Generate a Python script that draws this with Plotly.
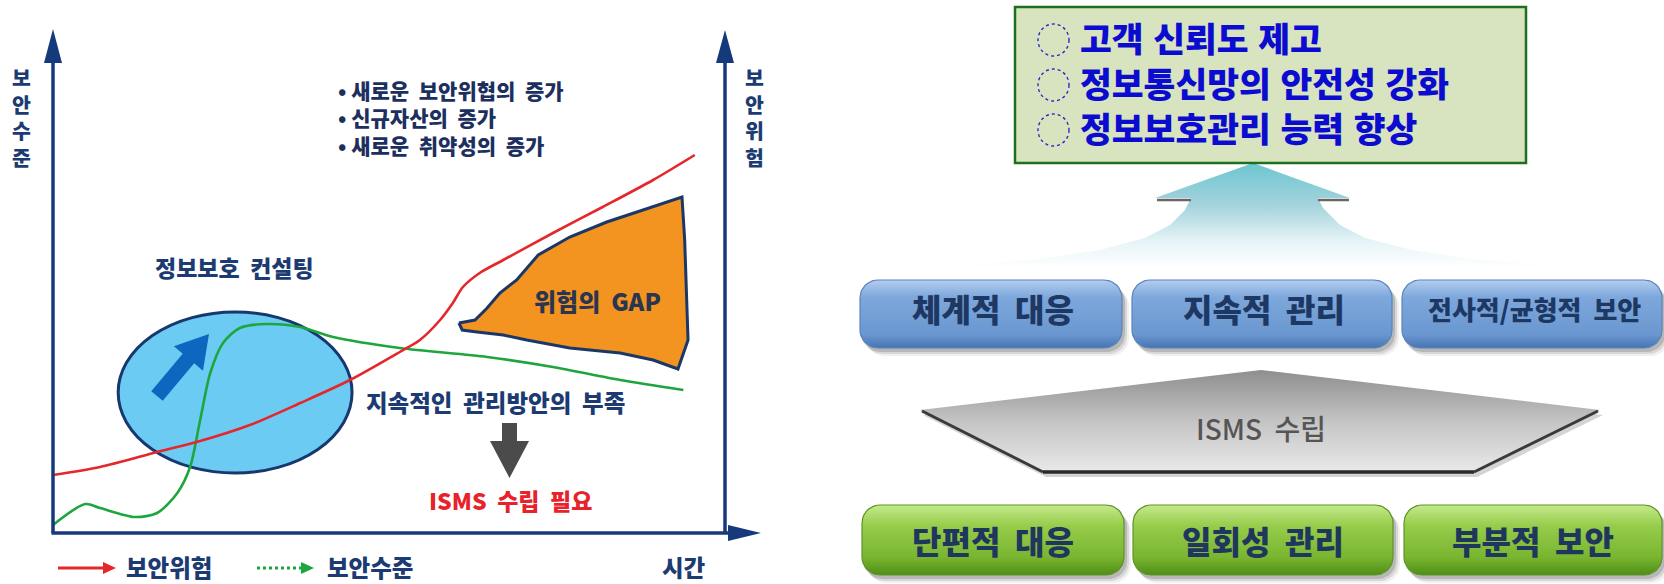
import math
import plotly.graph_objects as go

W, H = 1664, 584
KR = "Noto Sans CJK KR"
KR_TIGHT = "Liberation Sans, Noto Sans CJK KR"
NAVY = "#1c3b72"
NB = "\u00a0"

# ---------------- data : left chart (time 0-100, level 0-100) ----------------
risk_t = [0, 7.0, 15.5, 21.9, 29.3, 36.8, 44.2, 51.6, 54.6, 57.6, 59.5, 61.0, 63.5, 67.0, 74.4, 81.8, 89.3, 95.5]
risk_v = [11.6, 13.2, 16.2, 18.4, 21.6, 26.0, 30.6, 36.2, 38.6, 42.6, 46.0, 49.2, 52.0, 54.6, 60.0, 65.2, 70.6, 75.6]
level_t = [0, 4.8, 7.0, 12.2, 15.5, 18.5, 20.4, 21.9, 23.4, 25.3, 27.8, 31.8, 36.8, 41.7, 51.6, 64.6, 74.4, 84.4, 93.8]
level_v = [1.6, 5.8, 5.0, 3.2, 4.0, 8.0, 13.2, 22.6, 32.0, 38.0, 41.0, 41.8, 41.2, 39.2, 37.0, 35.2, 33.2, 30.6, 28.6]
gap_t = [60.4, 62.8, 64.6, 66.5, 69.0, 72.2, 76.9, 82.4, 86.9, 93.6, 94.0, 94.3, 94.5, 93.0, 89.3, 84.4, 76.9, 70.5, 67.0, 63.1, 60.9, 60.4]
gap_v = [42.0, 42.6, 45.0, 48.0, 50.6, 55.6, 59.2, 62.2, 64.2, 67.2, 58.6, 48.6, 38.6, 32.8, 34.6, 36.0, 37.0, 38.6, 39.6, 40.2, 40.6, 42.0]
consult_t = [9.7, 44.5]
consult_v = [12.0, 44.2]

legend_labels = ["보안위험", "보안수준"]
axis_left_label = "보안수준"
axis_right_label = "보안위험"
time_label = "시간"
bullet_lines = ["• 새로운  보안위협의  증가", "• 신규자산의  증가", "• 새로운  취약성의  증가"]
consult_label = "정보보호  컨설팅"
gap_label = "위험의  GAP"
lack_label = "지속적인  관리방안의  부족"
need_label = "ISMS  수립  필요"

# ---------------- data : right diagram ----------------
goal_lines = ["고객 신뢰도 제고", "정보통신망의 안전성 강화", "정보보호관리 능력 향상"]
top_boxes = ["체계적  대응", "지속적  관리", "전사적/균형적  보안"]
bottom_boxes = ["단편적  대응", "일회성  관리", "부분적  보안"]
middle_label = "ISMS  수립"

def nb(s):
    return s.replace("  ", NB + NB)

# pixel mapping of left chart
X0, X1 = 53, 725
YB, YT = 533, 33
def px2t(x): return (x - X0) * 100.0 / (X1 - X0)
def px2v(y): return (YB - y) * 100.0 / (YB - YT)

fig = go.Figure()

def poly_path(pts):
    return "M " + " L ".join(f"{x:.2f},{y:.2f}" for x, y in pts) + " Z"

shapes = []
annotations = []

def txt(x, y, s, size, color=NAVY, anchor="left", weight=800, family=KR, align="center"):
    annotations.append(dict(x=x, y=y, xref="x2", yref="y2", text=nb(s), showarrow=False,
                            xanchor=anchor, yanchor="middle", borderpad=0, align=align,
                            font=dict(family=family, size=size, color=color, weight=weight)))

# ---- ellipse (below curves) ----
shapes.append(dict(type="circle", xref="x", yref="y", layer="below",
                   x0=consult_t[0], x1=consult_t[1], y0=consult_v[0], y1=consult_v[1],
                   fillcolor="#6ccbf2", line=dict(color="#17386e", width=3)))

# blue arrow inside ellipse
T = (157, 396); P = (209, 334)
L = math.hypot(P[0] - T[0], P[1] - T[1])
u = ((P[0] - T[0]) / L, (P[1] - T[1]) / L)
n = (-u[1], u[0])
hw, HW, hl = 7.5, 19, 32
B = (P[0] - u[0] * hl, P[1] - u[1] * hl)
arr = [(T[0] + n[0] * hw, T[1] + n[1] * hw), (B[0] + n[0] * hw, B[1] + n[1] * hw),
       (B[0] + n[0] * HW, B[1] + n[1] * HW), P,
       (B[0] - n[0] * HW, B[1] - n[1] * HW), (B[0] - n[0] * hw, B[1] - n[1] * hw),
       (T[0] - n[0] * hw, T[1] - n[1] * hw)]
shapes.append(dict(type="path", xref="x", yref="y", layer="below",
                   path=poly_path([(px2t(x), px2v(y)) for x, y in arr]),
                   fillcolor="#0d67be", line=dict(width=0)))

# ---- gap polygon + curves ----
fig.add_trace(go.Scatter(x=gap_t, y=gap_v, mode="lines", fill="toself", fillcolor="#f39320",
                         line=dict(color="#1b3768", width=3), xaxis="x", yaxis="y",
                         hoverinfo="skip", showlegend=False))
fig.add_trace(go.Scatter(x=level_t, y=level_v, mode="lines",
                         line=dict(color="#1ea63e", width=2.6, shape="spline", smoothing=0.8),
                         xaxis="x", yaxis="y", name=legend_labels[1], showlegend=False))
fig.add_trace(go.Scatter(x=risk_t, y=risk_v, mode="lines",
                         line=dict(color="#e5262b", width=2.6, shape="spline", smoothing=0.8),
                         xaxis="x", yaxis="y", name=legend_labels[0], showlegend=False))

# ---- axes with arrowheads (pixel overlay) ----
AX = "#15397a"
def line(x0, y0, x1, y1, color, width, dash=None):
    d = dict(type="line", xref="x2", yref="y2", x0=x0, y0=y0, x1=x1, y1=y1,
             line=dict(color=color, width=width))
    if dash:
        d["line"]["dash"] = dash
    shapes.append(d)
def tri(pts, color):
    shapes.append(dict(type="path", xref="x2", yref="y2", path=poly_path(pts),
                       fillcolor=color, line=dict(width=0)))

line(X0, YB, X0, 60, AX, 3.5)
tri([(44, 63), (62, 63), (53, 29)], AX)
line(X1, YB, X1, 60, AX, 3.5)
tri([(716, 63), (734, 63), (725, 30)], AX)
line(X0 - 1.5, YB, 732, YB, AX, 3.5)
tri([(728, 525), (728, 541), (761, 533)], AX)

# vertical axis labels (stacked characters, one text each)
txt(21, 118, "<br>".join(axis_left_label), 20.5, anchor="center", weight=900, family=KR_TIGHT)
txt(754, 118, "<br>".join(axis_right_label), 20.5, anchor="center", weight=900, family=KR_TIGHT)

# bullets (one multi-line text)
txt(337, 117, "<br>".join(nb(s) for s in bullet_lines), 21, color="#1c2f5e", weight=900, align="left")

txt(154, 267, consult_label, 23)
txt(597, 300, gap_label, 24, color="#2a3550", anchor="center")
txt(365, 402, lack_label, 23.5)

# gray down arrow
tri([(502, 423), (517, 423), (517, 441), (529, 441), (509.5, 478), (490, 441), (502, 441)], "#4b4b4b")
txt(510, 500, need_label, 23, color="#e8222a", anchor="center")

# legend
line(58, 568, 106, 568, "#e5262b", 3)
tri([(103, 562), (103, 574), (116, 568)], "#e5262b")
txt(125, 567, legend_labels[0], 23.5)
line(257, 568, 304, 568, "#1ea63e", 3, dash="dot")
tri([(301, 562), (301, 574), (314, 568)], "#1ea63e")
txt(326, 567, legend_labels[1], 23.5)
txt(661, 567, time_label, 23.5)

# ---------------- right diagram ----------------
def rrect(x0, y0, x1, y1, r, n=10):
    pts = []
    for cx, cy, a0 in [(x1 - r, y0 + r, -90), (x1 - r, y1 - r, 0), (x0 + r, y1 - r, 90), (x0 + r, y0 + r, 180)]:
        for k in range(n + 1):
            a = math.radians(a0 + 90 * k / n)
            pts.append((cx + r * math.cos(a), cy + r * math.sin(a)))
    pts.append(pts[0])
    return pts

def poly_trace(pts, fillcolor=None, grad=None, line_color="rgba(0,0,0,0)", lw=0):
    xs = [p[0] for p in pts]; ys = [p[1] for p in pts]
    kw = dict(x=xs, y=ys, mode="lines", fill="toself", xaxis="x2", yaxis="y2",
              line=dict(color=line_color, width=lw), hoverinfo="skip", showlegend=False)
    if grad:
        kw["fillgradient"] = grad
    else:
        kw["fillcolor"] = fillcolor
    fig.add_trace(go.Scatter(**kw))

# big up arrow with fading gradient
up = [(1253, 163), (1350, 198), (1318, 198), (1323, 208), (1340, 225), (1365, 238), (1412, 250),
      (1470, 259), (1560, 266), (960, 266), (1040, 259), (1100, 250), (1145, 238), (1170, 225),
      (1185, 210), (1191, 198), (1155, 198), (1253, 163)]
poly_trace(up, grad=dict(type="vertical", start=268, stop=163,
                         colorscale=[[0, "rgba(255,255,255,1)"], [0.25, "#e6f4f7"], [0.6, "#a4d3dc"], [1, "#6cc6d0"]]))
line(1157, 200, 1191, 200, "#666666", 2.5)
line(1318, 200, 1349, 200, "#666666", 2.5)

# goal box
shapes.append(dict(type="rect", xref="x2", yref="y2", x0=1015, y0=7, x1=1526, y1=163,
                   fillcolor="#d8e4bf", line=dict(color="#1d701d", width=2.5)))
for i in range(len(goal_lines)):
    cy = 40 + i * 45
    shapes.append(dict(type="circle", xref="x2", yref="y2", x0=1038, x1=1069, y0=cy - 16, y1=cy + 16,
                       line=dict(color="#2a2ac8", width=1.4, dash="dot")))
txt(1079, 85, "<br>".join(goal_lines), 34.6, color="#0c0cd0", weight=900, align="left", family=KR_TIGHT)

# blue boxes
top_x = [(860, 1122), (1132, 1392), (1402, 1662)]
bot_x = [(862, 1124), (1133, 1393), (1404, 1662)]
for (x0, x1), s in zip(top_x, top_boxes):
    for k, a in enumerate([0.18, 0.12, 0.07]):
        poly_trace(rrect(x0 + 2 + k * 2, 284 + k * 2, x1 + 3 + k * 2, 352 + k * 2, 18), fillcolor=f"rgba(40,40,40,{a})")
    poly_trace(rrect(x0, 280, x1, 348, 18),
               grad=dict(type="vertical", start=348, stop=280,
                         colorscale=[[0, "#4675b2"], [0.2, "#6a97d0"], [0.75, "#7ea8dc"], [1, "#b3cdee"]]),
               line_color="#5b84ba", lw=1.2)
for (x0, x1), s, fs in zip(top_x, top_boxes, [32, 32, 26]):
    txt((x0 + x1) / 2 + 2, 308, s, fs, color="#1e3864", anchor="center", weight=900)

# pentagon
pent = [(1261, 370), (1600, 410), (1474, 472), (1043, 472), (920, 410), (1261, 370)]
poly_trace([(x + 3, y + 5) for x, y in pent], fillcolor="rgba(40,40,40,0.2)")
poly_trace(pent, grad=dict(type="vertical", start=472, stop=370,
                           colorscale=[[0, "#e9e9e9"], [0.5, "#c4c4c4"], [1, "#8e8e8e"]]))
line(922, 411, 1043, 472, "#3a3a3a", 3)
line(1043, 472, 1474, 472, "#2a2a2a", 3.5)
line(1474, 472, 1598, 411, "#3a3a3a", 3)
txt(1261, 428, middle_label, 28, color="#555555", anchor="center", weight=500)

# green boxes
for (x0, x1), s in zip(bot_x, bottom_boxes):
    for k, a in enumerate([0.18, 0.12, 0.07]):
        poly_trace(rrect(x0 + 2 + k * 2, 509 + k * 2, x1 + 3 + k * 2, 579 + k * 2, 18), fillcolor=f"rgba(40,40,40,{a})")
    poly_trace(rrect(x0, 505, x1, 575, 18),
               grad=dict(type="vertical", start=575, stop=505,
                         colorscale=[[0, "#4f8e17"], [0.25, "#79b530"], [0.7, "#96cc4a"], [1, "#c4ea8c"]]),
               line_color="#5f932a", lw=1.2)
    txt((x0 + x1) / 2, 540, s, 32, color="#1f375c", anchor="center", weight=900)

fig.update_layout(
    width=W, height=H, margin=dict(l=0, r=0, t=0, b=0),
    paper_bgcolor="white", plot_bgcolor="rgba(0,0,0,0)",
    showlegend=False,
    xaxis=dict(domain=[X0 / W, X1 / W], range=[0, 100], visible=False, fixedrange=True),
    yaxis=dict(domain=[(H - YB) / H, (H - YT) / H], range=[0, 100], visible=False, fixedrange=True),
    xaxis2=dict(domain=[0, 1], range=[0, W], visible=False, anchor="y2", fixedrange=True),
    yaxis2=dict(domain=[0, 1], range=[H, 0], visible=False, anchor="x2", fixedrange=True),
    shapes=shapes, annotations=annotations,
)
fig.write_html("out.html")
